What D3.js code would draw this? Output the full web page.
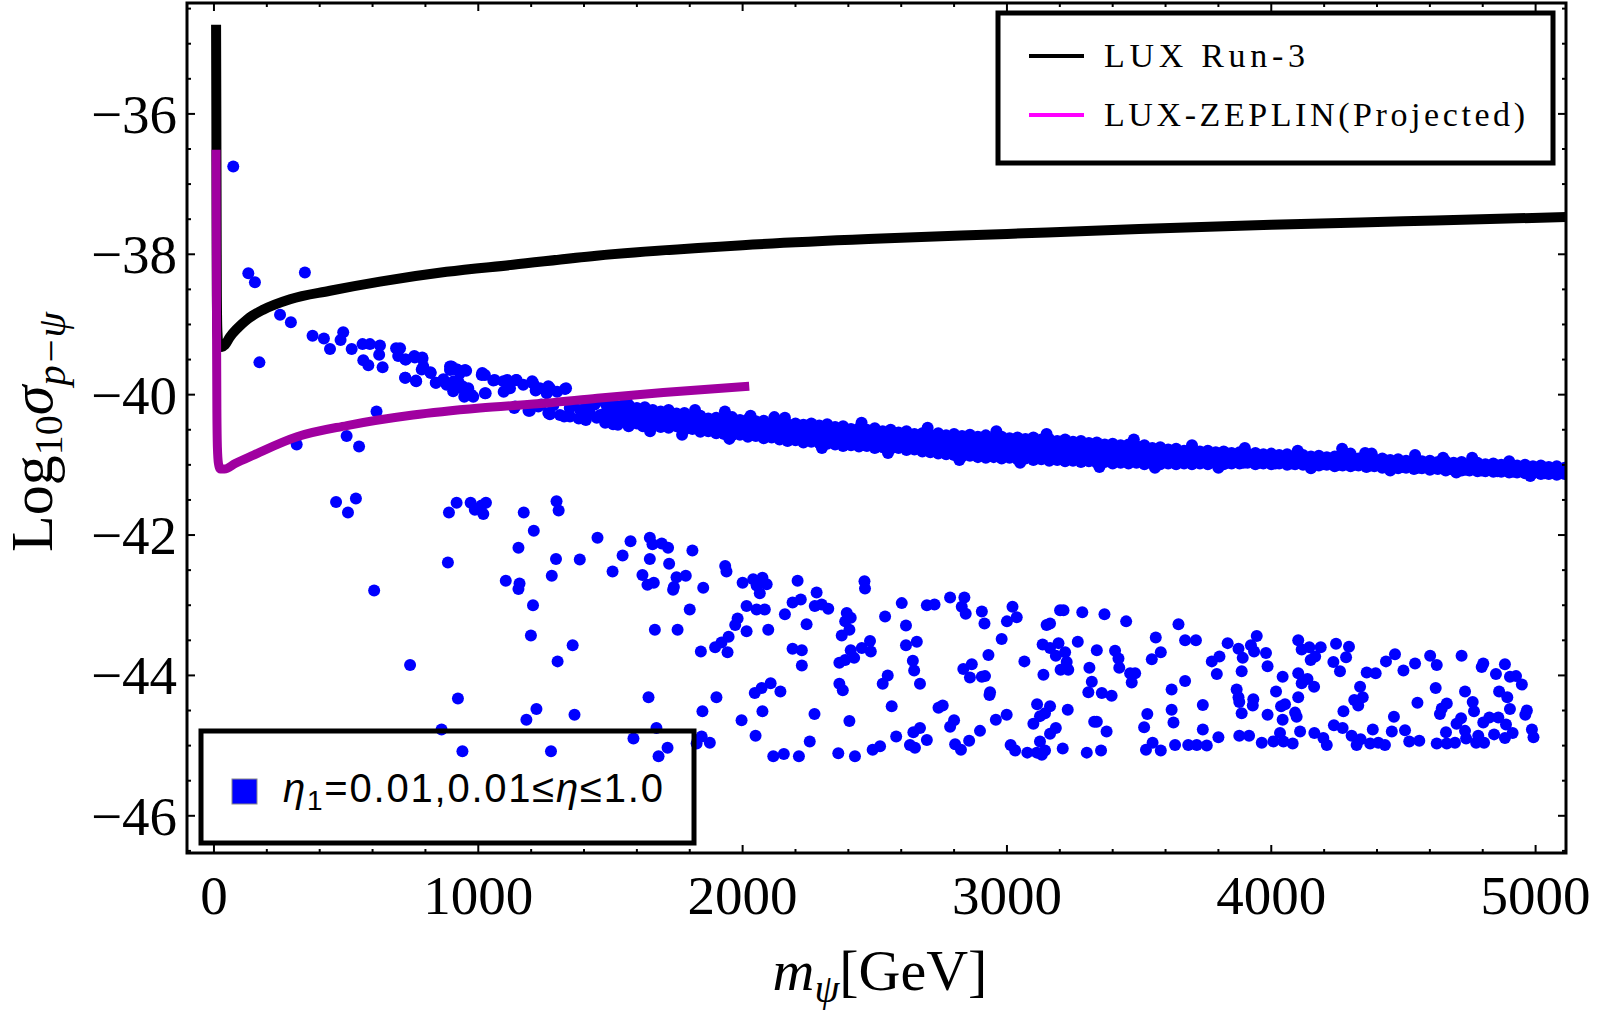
<!DOCTYPE html>
<html>
<head>
<meta charset="utf-8">
<script src="https://cdn.jsdelivr.net/npm/d3@7"></script>
<style>
  body { margin: 0; background: #ffffff; }
</style>
</head>
<body>
<div id="chart"></div>
<script>
// --- DATA ---
const xTicks = [0, 1000, 2000, 3000, 4000, 5000];
const yTicks = [-36, -38, -40, -42, -44, -46];

// exclusion curves: [mass GeV, log10 sigma]
const luxRun3 = [
  [8,-34.73],[9,-36],[10,-37.5],[11,-38.6],[13,-39.1],[18,-39.28],[30,-39.32],[42,-39.29],
  [60,-39.18],[90,-39.05],[125,-38.93],[186,-38.79],[288,-38.64],[439,-38.52],[628,-38.39],
  [880,-38.25],[1131,-38.15],[1447,-38.02],[2000,-37.87],[2500,-37.78],[3000,-37.71],
  [3500,-37.64],[4000,-37.58],[4500,-37.53],[5115,-37.47]
];
const luxZeplin = [
  [8,-36.51],[9,-38.0],[10,-39.3],[11,-40.2],[13,-40.75],[17,-40.98],[24,-41.06],[40,-41.06],
  [80,-40.98],[150,-40.86],[314,-40.60],[503,-40.44],[753,-40.29],[1006,-40.19],[1260,-40.12],
  [1450,-40.05],[1700,-39.97],[2025,-39.88]
];

// scattered points above / around the start of the band
const trailPoints = [
  [73,-36.75],[130,-38.27],[155,-38.40],[344,-38.26],[172,-39.54],[250,-38.86],[291,-38.97],
  [373,-39.16],[416,-39.20],[439,-39.35],[489,-39.11],[479,-39.22],[521,-39.35],[562,-39.28],
  [590,-39.28],[628,-39.30],[625,-39.43],[565,-39.51],[584,-39.58],[638,-39.61],[689,-39.34],
  [697,-39.45],[726,-39.50],[760,-39.47],[789,-39.49],[723,-39.76],[764,-39.80],[786,-39.64],
  [820,-39.69],[840,-39.83],[868,-39.78],[893,-39.65],[918,-39.64],[950,-39.65],[880,-39.86],
  [905,-39.95],[937,-39.91],[956,-40.00],[981,-40.03],[1013,-39.72],[1025,-39.72],[1057,-39.80],
  [1025,-39.98],[1095,-39.81],[1145,-39.79],[1120,-39.91],[1208,-39.84],[1233,-39.91],
  [1271,-39.91],[1328,-39.92],[1139,-40.17],[1195,-40.23],[1227,-40.17],[1265,-40.26],
  [1309,-40.29],[1347,-40.31],[1397,-40.33],[1448,-40.33],[1359,-40.12],[1410,-40.17],
  [615,-40.24],[313,-40.71],[502,-40.59],[549,-40.74],[899,-39.60],[931,-39.69],[962,-39.91],
  [924,-39.81],[1170,-39.86],[1259,-39.98],[1284,-40.15],[1385,-40.22],[1422,-40.26],
  [704,-39.34],[724,-39.50],[758,-39.45],[788,-39.47],[724,-39.76],[765,-39.81],[792,-39.60],
  [819,-39.68],[839,-39.83],[893,-39.60],[920,-39.64],[954,-39.66],[907,-39.81],[940,-39.88],
  [974,-40.00],[947,-40.03],[1015,-39.69],[1028,-39.98],[1062,-39.79],[1109,-39.79],
  [1143,-39.79],[1096,-39.96],[1136,-40.19],[1190,-40.23],[1204,-39.81],[1217,-39.94],
  [1265,-39.88],[1298,-39.96],[1332,-39.91],[1238,-40.14],[1271,-40.28],[1325,-40.31],
  [1380,-40.34],[1407,-40.21],[1440,-40.14],[1461,-40.29],[1488,-40.36],[1528,-40.43],
  [1569,-40.45],[1623,-40.45],[1407,-40.36],[1346,-40.19],[1515,-40.22],[1582,-40.22],
  [1650,-40.26],[1677,-40.36],[1717,-40.45],[1771,-40.57],[1933,-40.24],[2030,-40.30],
  [2160,-40.33],[4268,-40.77],[4355,-40.83],[4544,-40.86],[4380,-40.84],[4760,-40.90]
];

// dense band: [mass, [log10 sigma values in that column]]
const bandColumns = [
  [1480,[-40.12,-40.26,-40.40]],[1510,[-40.14,-40.30,-40.42]],[1540,[-40.16,-40.24,-40.38]],
  [1570,[-40.15,-40.33,-40.43]],[1600,[-40.19,-40.28,-40.41]],[1630,[-40.18,-40.36,-40.45]],
  [1660,[-40.22,-40.31,-40.44]],[1690,[-40.24,-40.35,-40.46]],[1720,[-40.22,-40.38,-40.47]],
  [1750,[-40.27,-40.34,-40.45]],[1780,[-40.26,-40.40,-40.50]],[1810,[-40.31,-40.38,-40.49]],
  [1840,[-40.30,-40.44,-40.53]],[1870,[-40.34,-40.41,-40.52]],[1900,[-40.33,-40.45,-40.55]],
  [1930,[-40.35,-40.43,-40.56]],[1960,[-40.32,-40.48,-40.58]],[1990,[-40.36,-40.46,-40.57]],
  [2020,[-40.35,-40.51,-40.60]],[2050,[-40.38,-40.47,-40.59]],[2080,[-40.37,-40.52,-40.62]],
  [2110,[-40.41,-40.50,-40.61]],[2140,[-40.39,-40.55,-40.64]],[2170,[-40.42,-40.52,-40.66]],
  [2200,[-40.41,-40.57,-40.65]],[2230,[-40.43,-40.54,-40.68]],[2260,[-40.41,-40.58,-40.67]],
  [2290,[-40.44,-40.55,-40.69]],[2320,[-40.42,-40.60,-40.70]],[2350,[-40.46,-40.57,-40.71]],
  [2380,[-40.45,-40.62,-40.73]],[2410,[-40.49,-40.59,-40.72]],[2440,[-40.48,-40.64,-40.74]],
  [2470,[-40.50,-40.61,-40.73]],[2500,[-40.48,-40.66,-40.76]],[2530,[-40.52,-40.62,-40.75]],
  [2560,[-40.50,-40.67,-40.77]],[2590,[-40.54,-40.64,-40.76]],[2620,[-40.52,-40.69,-40.79]],
  [2650,[-40.56,-40.66,-40.78]],[2680,[-40.55,-40.71,-40.81]],[2710,[-40.57,-40.68,-40.82]],
  [2740,[-40.55,-40.73,-40.84]],[2770,[-40.58,-40.70,-40.85]],[2800,[-40.56,-40.75,-40.86]],
  [2830,[-40.59,-40.71,-40.88]],[2860,[-40.57,-40.76,-40.87]],[2890,[-40.60,-40.73,-40.89]],
  [2920,[-40.58,-40.78,-40.90]],[2950,[-40.61,-40.74,-40.89]],[2980,[-40.60,-40.79,-40.91]],
  [3010,[-40.62,-40.75,-40.90]],[3040,[-40.61,-40.80,-40.92]],[3070,[-40.63,-40.76,-40.91]],
  [3100,[-40.61,-40.81,-40.93]],[3130,[-40.64,-40.77,-40.92]],[3160,[-40.63,-40.82,-40.94]],
  [3190,[-40.66,-40.78,-40.93]],[3220,[-40.64,-40.83,-40.95]],[3250,[-40.67,-40.80,-40.94]],
  [3280,[-40.66,-40.85,-40.96]],[3310,[-40.69,-40.81,-40.95]],[3340,[-40.68,-40.86,-40.97]],
  [3370,[-40.71,-40.83,-40.96]],[3400,[-40.70,-40.87,-40.98]],[3430,[-40.72,-40.84,-40.97]],
  [3460,[-40.71,-40.88,-40.98]],[3490,[-40.73,-40.85,-40.97]],[3520,[-40.72,-40.89,-40.99]],
  [3550,[-40.76,-40.86,-40.98]],[3580,[-40.75,-40.90,-40.99]],[3610,[-40.78,-40.87,-40.98]],
  [3640,[-40.77,-40.91,-40.99]],[3670,[-40.80,-40.88,-40.98]],[3700,[-40.79,-40.92,-40.99]],
  [3730,[-40.81,-40.89,-40.98]],[3760,[-40.80,-40.93,-40.99]],[3790,[-40.82,-40.90,-40.98]],
  [3820,[-40.81,-40.94,-40.99]],[3850,[-40.83,-40.91,-40.98]],[3880,[-40.82,-40.95,-40.98]],
  [3910,[-40.84,-40.92,-40.97]],[3940,[-40.83,-40.95,-40.99]],[3970,[-40.85,-40.92,-40.98]],
  [4000,[-40.84,-40.96,-40.99]],[4030,[-40.86,-40.93,-40.98]],[4060,[-40.85,-40.96,-41.00]],
  [4090,[-40.87,-40.94,-40.99]],[4120,[-40.86,-40.97,-41.00]],[4150,[-40.88,-40.95,-40.99]],
  [4180,[-40.87,-40.97,-41.01]],[4210,[-40.89,-40.96,-41.00]],[4240,[-40.88,-40.98,-41.02]],
  [4270,[-40.90,-40.96,-41.01]],[4300,[-40.89,-40.98,-41.02]],[4330,[-40.91,-40.97,-41.01]],
  [4360,[-40.90,-40.99,-41.03]],[4390,[-40.92,-40.98,-41.02]],[4420,[-40.91,-41.00,-41.04]],
  [4450,[-40.93,-40.99,-41.03]],[4480,[-40.92,-41.01,-41.05]],[4510,[-40.94,-41.00,-41.04]],
  [4540,[-40.93,-41.02,-41.06]],[4570,[-40.95,-41.01,-41.05]],[4600,[-40.94,-41.03,-41.07]],
  [4630,[-40.96,-41.02,-41.06]],[4660,[-40.95,-41.04,-41.08]],[4690,[-40.97,-41.03,-41.07]],
  [4720,[-40.96,-41.05,-41.08]],[4750,[-40.98,-41.04,-41.08]],[4780,[-40.97,-41.06,-41.09]],
  [4810,[-40.99,-41.05,-41.09]],[4840,[-40.98,-41.07,-41.10]],[4870,[-41.00,-41.06,-41.10]],
  [4900,[-40.99,-41.08,-41.11]],[4930,[-41.01,-41.07,-41.11]],[4960,[-41.00,-41.09,-41.12]],
  [4990,[-41.02,-41.08,-41.12]],[5020,[-41.01,-41.10,-41.13]],[5050,[-41.03,-41.09,-41.13]],
  [5080,[-41.02,-41.11,-41.14]],[5110,[-41.04,-41.10,-41.13]]
];

// band, in-between columns
const bandFill = [
  [1495,[-40.18,-40.35]],[1525,[-40.21,-40.37]],[1555,[-40.19,-40.32]],[1585,[-40.24,-40.39]],
  [1615,[-40.22,-40.35]],[1645,[-40.27,-40.41]],[1675,[-40.26,-40.38]],[1705,[-40.29,-40.41]],
  [1735,[-40.30,-40.43]],[1765,[-40.30,-40.40]],[1795,[-40.33,-40.45]],[1825,[-40.34,-40.44]],
  [1855,[-40.37,-40.49]],[1885,[-40.37,-40.47]],[1915,[-40.39,-40.50]],[1945,[-40.39,-40.50]],
  [1975,[-40.40,-40.53]],[2005,[-40.41,-40.52]],[2035,[-40.43,-40.56]],[2065,[-40.42,-40.53]],
  [2095,[-40.45,-40.57]],[2125,[-40.45,-40.56]],[2155,[-40.47,-40.60]],[2185,[-40.47,-40.59]],
  [2215,[-40.49,-40.61]],[2245,[-40.48,-40.61]],[2275,[-40.50,-40.63]],[2305,[-40.50,-40.62]],
  [2335,[-40.51,-40.65]],[2365,[-40.52,-40.64]],[2395,[-40.54,-40.68]],[2425,[-40.54,-40.66]],
  [2455,[-40.56,-40.69]],[2485,[-40.56,-40.67]],[2515,[-40.57,-40.71]],[2545,[-40.57,-40.69]],
  [2575,[-40.59,-40.72]],[2605,[-40.59,-40.70]],[2635,[-40.61,-40.74]],[2665,[-40.61,-40.72]],
  [2695,[-40.63,-40.76]],[2725,[-40.62,-40.75]],[2755,[-40.64,-40.79]],[2785,[-40.64,-40.78]],
  [2815,[-40.66,-40.81]],[2845,[-40.65,-40.80]],[2875,[-40.67,-40.82]],[2905,[-40.66,-40.81]],
  [2935,[-40.68,-40.84]],[2965,[-40.68,-40.82]],[2995,[-40.70,-40.85]],[3025,[-40.69,-40.83]],
  [3055,[-40.71,-40.86]],[3085,[-40.70,-40.84]],[3115,[-40.71,-40.87]],[3145,[-40.71,-40.85]],
  [3175,[-40.73,-40.88]],[3205,[-40.72,-40.86]],[3235,[-40.74,-40.89]],[3265,[-40.74,-40.87]],
  [3295,[-40.76,-40.90]],[3325,[-40.75,-40.88]],[3355,[-40.77,-40.92]],[3385,[-40.77,-40.90]],
  [3415,[-40.79,-40.93]],[3445,[-40.78,-40.91]],[3475,[-40.80,-40.93]],[3505,[-40.79,-40.91]],
  [3535,[-40.81,-40.94]],[3565,[-40.81,-40.92]],[3595,[-40.83,-40.95]],[3625,[-40.83,-40.93]],
  [3655,[-40.84,-40.95]],[3685,[-40.84,-40.93]],[3715,[-40.86,-40.96]],[3745,[-40.85,-40.94]],
  [3775,[-40.87,-40.96]],[3805,[-40.86,-40.94]],[3835,[-40.88,-40.97]],[3865,[-40.87,-40.95]],
  [3895,[-40.89,-40.97]],[3925,[-40.88,-40.95]],[3955,[-40.89,-40.97]],[3985,[-40.89,-40.95]],
  [4015,[-40.90,-40.98]],[4045,[-40.90,-40.96]],[4075,[-40.91,-40.98]],[4105,[-40.91,-40.97]],
  [4135,[-40.92,-40.99]],[4165,[-40.92,-40.97]],[4195,[-40.92,-40.99]],[4225,[-40.93,-40.98]],
  [4255,[-40.93,-41.00]],[4285,[-40.93,-40.99]],[4315,[-40.94,-41.00]],[4345,[-40.94,-40.99]],
  [4375,[-40.95,-41.01]],[4405,[-40.95,-41.00]],[4435,[-40.96,-41.02]],[4465,[-40.96,-41.01]],
  [4495,[-40.97,-41.03]],[4525,[-40.97,-41.02]],[4555,[-40.98,-41.04]],[4585,[-40.98,-41.03]],
  [4615,[-40.99,-41.05]],[4645,[-40.99,-41.04]],[4675,[-41.00,-41.06]],[4705,[-41.00,-41.05]],
  [4735,[-41.01,-41.07]],[4765,[-41.01,-41.06]],[4795,[-41.02,-41.08]],[4825,[-41.02,-41.07]],
  [4855,[-41.03,-41.09]],[4885,[-41.03,-41.08]],[4915,[-41.04,-41.10]],[4945,[-41.04,-41.09]],
  [4975,[-41.05,-41.11]],[5005,[-41.05,-41.10]],[5035,[-41.06,-41.12]],[5065,[-41.06,-41.11]],
  [5095,[-41.07,-41.12]]
];

// points sticking out of the band edges
const bandEdge = [
  [1560,-40.08],[1820,-40.22],[2120,-40.32],[2450,-40.40],[2700,-40.47],[2960,-40.52],
  [3150,-40.56],[3480,-40.64],[3700,-40.72],[3900,-40.76],[4100,-40.80],[4300,-40.84],
  [4650,-40.90],[4900,-40.95],[1650,-40.52],[1950,-40.63],[2300,-40.76],[2550,-40.83],
  [2820,-40.93],[3050,-40.97],[3350,-41.03],[3560,-41.04],[3800,-41.04],[4150,-41.05],
  [4450,-41.08],[4700,-41.11],[4980,-41.16]
];

// lower scattered region
const lowerPoints = [
  [462,-41.53],[507,-41.68],[537,-41.48],[606,-42.79],[742,-43.85],
  [918,-41.54],[971,-41.54],[987,-41.64],[1012,-41.58],[1029,-41.54],[1019,-41.70],[889,-41.68],
  [1172,-41.68],[1296,-41.52],[1304,-41.65],[1210,-41.94],[1152,-42.18],[885,-42.39],[1294,-42.34],
  [1278,-42.58],[1104,-42.65],[1156,-42.69],[1152,-42.77],[1207,-43.00],[1199,-43.43],[1357,-43.57],
  [1300,-43.80],[1384,-42.35],[1451,-42.04],[1576,-42.09],[1546,-42.29],[1508,-42.52],[1621,-42.57],
  [1640,-42.71],[1664,-42.68],[1649,-42.04],[1659,-42.13],[1694,-42.12],[1718,-42.18],[1649,-42.34],
  [1722,-42.41],[1750,-42.60],[1785,-42.58],[1740,-42.74],[1737,-42.78],[1810,-42.22],[1851,-42.75],
  [1800,-43.06],[1668,-43.35],[1754,-43.35],[1934,-42.44],[1939,-42.52],[2000,-42.68],[2040,-42.63],
  [2075,-42.61],[2053,-42.72],[2091,-42.70],[2065,-42.83],[2208,-42.65],[2015,-43.01],[2053,-43.06],
  [2084,-43.06],[2160,-43.13],[2189,-42.96],[2220,-42.92],[2280,-42.82],[2273,-43.01],[2299,-42.99],
  [2324,-43.05],[1981,-43.19],[1972,-43.28],[2015,-43.37],[2097,-43.35],[2242,-43.27],[1947,-43.45],
  [1920,-43.53],[1896,-43.60],[1943,-43.67],[1842,-43.66],[2189,-43.62],[2224,-43.64],[2224,-43.86],
  [923,-44.33],[1220,-44.48],[1182,-44.63],[1364,-44.56],[1644,-44.31],[1901,-44.31],[1848,-44.51],
  [1996,-44.64],[2075,-44.51],[2046,-44.25],[2072,-44.18],[2106,-44.11],[2143,-44.23],[2272,-44.55],
  [2049,-44.86],[2254,-44.94],[861,-44.77],[940,-45.08],[1275,-45.08],[1587,-44.90],[1674,-44.75],
  [1716,-45.03],[1682,-45.15],[1845,-44.87],[1876,-44.96],[1826,-44.97],[2116,-45.15],[2156,-45.12],
  [2213,-45.15],
  [2461,-42.66],[2463,-42.76],[2602,-42.97],[2539,-43.16],[2618,-43.29],[2697,-43.00],[2726,-42.99],
  [2785,-42.89],[2839,-42.89],[2829,-43.02],[2844,-43.12],[2905,-43.09],[2915,-43.26],[3021,-43.02],
  [3000,-43.23],[3037,-43.17],[2980,-43.48],[2930,-43.71],[3066,-43.80],[3135,-43.56],[3163,-43.61],
  [3195,-43.54],[3220,-43.67],[3185,-43.72],[3226,-43.81],[3203,-43.92],[3232,-43.92],[3138,-43.99],
  [3201,-43.07],[3214,-43.07],[3285,-43.10],[3369,-43.13],[3451,-43.23],[3150,-43.28],[3163,-43.26],
  [3268,-43.52],[3340,-43.64],[3409,-43.65],[3422,-43.76],[3425,-43.89],[3466,-43.97],[3485,-43.97],
  [3472,-44.10],[3312,-43.89],[3321,-44.09],[3308,-44.24],[3359,-44.25],[3396,-44.29],[3548,-43.77],
  [3563,-43.46],[3582,-43.67],[3649,-43.27],[2394,-43.11],[2409,-43.18],[2388,-43.23],[2404,-43.35],
  [2375,-43.43],[2482,-43.51],[2451,-43.61],[2409,-43.64],[2485,-43.66],[2422,-43.75],[2659,-43.52],
  [2618,-43.57],[2644,-43.79],[2649,-43.93],[2671,-44.12],[2549,-44.00],[2530,-44.12],[2564,-44.44],
  [2867,-43.84],[2835,-43.91],[2860,-44.03],[2905,-44.02],[2917,-44.01],[2936,-44.24],[2934,-44.28],
  [2366,-43.82],[2388,-43.78],[2366,-44.12],[2379,-44.21],[2404,-44.65],[2757,-44.43],[2741,-44.46],
  [2800,-44.64],[2785,-44.73],[2671,-44.75],[2646,-44.81],[2697,-44.92],[2581,-44.87],[2520,-45.01],
  [2492,-45.06],[2425,-45.15],[2362,-45.11],[2633,-44.99],[2652,-45.03],[2804,-44.98],[2826,-45.06],
  [2857,-44.93],[2898,-44.79],[2958,-44.63],[2999,-44.56],[3014,-44.99],[3031,-45.07],[3077,-45.10],
  [3113,-45.10],[3125,-44.94],[3144,-45.07],[3132,-45.13],[3100,-44.69],[3125,-44.58],[3163,-44.44],
  [3144,-44.54],[3114,-44.41],[3230,-44.49],[3185,-44.75],[3163,-44.83],[3211,-45.04],[3302,-45.10],
  [3356,-45.07],[3330,-44.66],[3340,-44.66],[3377,-44.80],[3519,-44.74],[3531,-44.55],[3623,-44.20],
  [3623,-44.49],[3630,-44.67],[3636,-44.99],[3526,-45.06],[3551,-44.96],[3582,-45.07],
  [3674,-43.50],[3715,-43.50],[3674,-44.08],[3775,-43.80],[3804,-43.73],[3794,-43.98],[3835,-43.54],
  [3876,-43.62],[3892,-43.75],[3923,-43.57],[3935,-43.66],[3945,-43.44],[3980,-43.68],[3986,-43.87],
  [3888,-43.94],[3869,-44.20],[3876,-44.31],[3879,-44.38],[3932,-44.34],[3930,-44.43],[3888,-44.54],
  [3741,-44.42],[3741,-44.77],[3800,-44.88],[3879,-44.86],[3916,-44.86],[3964,-44.96],[3986,-44.56],
  [4018,-44.23],[4043,-44.02],[4037,-44.44],[4052,-44.41],[4043,-44.63],[4090,-44.53],[4096,-44.59],
  [4102,-44.31],[4102,-43.97],[4115,-44.11],[4137,-44.05],[4162,-44.16],[4109,-44.80],[4163,-44.82],
  [4197,-44.89],[4210,-44.99],[4102,-43.50],[4115,-43.63],[4144,-43.60],[4187,-43.60],[4149,-43.78],
  [4166,-43.73],[4245,-43.55],[4294,-43.59],[4283,-43.74],[4235,-43.81],[4260,-43.94],[4336,-44.16],
  [4346,-44.31],[4314,-44.35],[4329,-44.43],[4273,-44.51],[4237,-44.71],[4270,-44.75],[4304,-44.86],
  [4338,-44.91],[4323,-44.99],[4361,-43.96],[4395,-43.97],[4434,-43.80],[4468,-43.70],[4500,-43.93],
  [4544,-43.83],[4601,-43.72],[4626,-43.85],[4622,-44.18],[4553,-44.39],[4664,-44.40],[4645,-44.47],
  [4638,-44.55],[4464,-44.59],[4384,-44.77],[4456,-44.80],[4506,-44.78],[4522,-44.94],[4560,-44.93],
  [4626,-44.97],[4664,-44.97],[4695,-44.96],[4661,-44.81],[4718,-44.61],[4701,-44.69],[4733,-44.79],
  [4737,-44.90],[4720,-43.72],[4733,-44.23],[4762,-44.38],[4767,-44.51],[4802,-43.83],[4796,-43.88],
  [4850,-43.98],[4884,-43.84],[4903,-44.02],[4926,-44.01],[4862,-44.23],[4893,-44.31],[4903,-44.48],
  [4888,-44.70],[4843,-44.84],[4913,-44.82],[4884,-44.89],[4802,-44.67],[4825,-44.60],[4859,-44.60],
  [4783,-44.86],[4775,-44.96],[4805,-44.96],[3686,-44.99],[3718,-44.99],[3756,-45.00],[4033,-44.82],
  [4008,-44.94],[4046,-44.94],[4081,-44.97],[4374,-44.97],[4405,-44.96],[4430,-44.99],
  [4948,-44.13],[4967,-44.50],[4961,-44.56],[4986,-44.77],[4992,-44.88]
];

const legendCurves = [
  { label: "LUX Run-3", color: "#000000" },
  { label: "LUX-ZEPLIN(Projected)", color: "#ff00ff" }
];

// --- SVG setup ---
const width = 1600, height = 1010;
const frame = { left: 187, right: 1566, top: 3, bottom: 853 };

const svg = d3.select("#chart")
  .append("svg")
  .attr("width", width)
  .attr("height", height)
  .style("background", "#ffffff");

// --- SCALES ---
const x = d3.scaleLinear().domain([-102, 5115]).range([frame.left, frame.right]);
const y = d3.scaleLinear().domain([-46.53, -34.42]).range([frame.bottom, frame.top]);

svg.append("clipPath").attr("id", "plotClip")
  .append("rect")
  .attr("x", frame.left).attr("y", frame.top)
  .attr("width", frame.right - frame.left)
  .attr("height", frame.bottom - frame.top);

const plot = svg.append("g").attr("clip-path", "url(#plotClip)");

// --- POINTS ---
const columnsToPoints = cols => cols.flatMap(c => c[1].map(v => [c[0], v]));
const allPoints = trailPoints
  .concat(lowerPoints)
  .concat(columnsToPoints(bandColumns))
  .concat(columnsToPoints(bandFill))
  .concat(bandEdge);

plot.selectAll("circle.pt")
  .data(allPoints)
  .enter()
  .append("circle")
  .attr("class", "pt")
  .attr("cx", d => x(d[0]))
  .attr("cy", d => y(d[1]))
  .attr("r", 6)
  .attr("fill", "#0000ff");

// --- CURVES ---
const line = d3.line()
  .x(d => x(d[0]))
  .y(d => y(d[1]))
  .curve(d3.curveMonotoneX);

plot.append("path")
  .datum(luxRun3)
  .attr("d", line)
  .attr("fill", "none")
  .attr("stroke", "#000000")
  .attr("stroke-width", 10)
  .attr("stroke-linejoin", "round");

plot.append("path")
  .datum(luxZeplin)
  .attr("d", line)
  .attr("fill", "none")
  .attr("stroke", "#a000a0")
  .attr("stroke-width", 9)
  .attr("stroke-linejoin", "round");

// --- FRAME + TICKS ---
const xMinor = d3.range(0, 5101, 200).filter(v => v % 1000 !== 0);
const yMinor = d3.range(-46.5, -34.4, 0.5).filter(v => Math.abs(v % 2) > 0.01);

const axisG = svg.append("g").attr("stroke", "#000");

function xTickLines(vals, len) {
  vals.forEach(v => {
    axisG.append("line").attr("x1", x(v)).attr("x2", x(v))
      .attr("y1", frame.bottom).attr("y2", frame.bottom - len).attr("stroke-width", 2);
    axisG.append("line").attr("x1", x(v)).attr("x2", x(v))
      .attr("y1", frame.top).attr("y2", frame.top + len).attr("stroke-width", 2);
  });
}
function yTickLines(vals, len) {
  vals.forEach(v => {
    axisG.append("line").attr("y1", y(v)).attr("y2", y(v))
      .attr("x1", frame.left).attr("x2", frame.left + len).attr("stroke-width", 2);
    axisG.append("line").attr("y1", y(v)).attr("y2", y(v))
      .attr("x1", frame.right).attr("x2", frame.right - len).attr("stroke-width", 2);
  });
}
xTickLines(xTicks, 8);
xTickLines(xMinor, 4);
yTickLines(yTicks, 8);
yTickLines(yMinor, 4);

svg.append("rect")
  .attr("x", frame.left).attr("y", frame.top)
  .attr("width", frame.right - frame.left)
  .attr("height", frame.bottom - frame.top)
  .attr("fill", "none")
  .attr("stroke", "#000")
  .attr("stroke-width", 3);

// tick labels
svg.selectAll("text.xt")
  .data(xTicks)
  .enter()
  .append("text")
  .attr("class", "xt")
  .attr("x", d => x(d))
  .attr("y", 914)
  .attr("text-anchor", "middle")
  .style("font-family", "'Liberation Serif', serif")
  .style("font-size", "55px")
  .text(d => d);

svg.selectAll("text.yt")
  .data(yTicks)
  .enter()
  .append("text")
  .attr("class", "yt")
  .attr("x", 177)
  .attr("y", d => y(d) + 19)
  .attr("text-anchor", "end")
  .style("font-family", "'Liberation Serif', serif")
  .style("font-size", "55px")
  .text(d => "\u2212" + Math.abs(d));

// --- AXIS LABELS ---
const xl = svg.append("text")
  .attr("x", 880)
  .attr("y", 990)
  .attr("text-anchor", "middle")
  .style("font-family", "'Liberation Serif', serif")
  .style("font-size", "58px");
xl.append("tspan").style("font-style", "italic").text("m");
xl.append("tspan").style("font-style", "italic").style("font-size", "40px").attr("dy", 12).text("\u03c8");
xl.append("tspan").attr("dy", -12).text("[GeV]");

const yl = svg.append("text")
  .attr("transform", "translate(52,432) rotate(-90)")
  .attr("text-anchor", "middle")
  .style("font-family", "'Liberation Serif', serif")
  .style("font-size", "60px");
yl.append("tspan").text("Log");
yl.append("tspan").style("font-size", "40px").attr("dy", 10).text("10");
yl.append("tspan").style("font-style", "italic").attr("dy", -10).text("\u03c3");
yl.append("tspan").style("font-style", "italic").style("font-size", "41px").attr("dy", 13).text("p\u2212\u03c8");

// --- LEGEND (curves) ---
const leg1 = svg.append("g");
leg1.append("rect")
  .attr("x", 998).attr("y", 13)
  .attr("width", 555).attr("height", 150)
  .attr("fill", "#ffffff")
  .attr("stroke", "#000")
  .attr("stroke-width", 5);

const legWidths = [201, 421];
legendCurves.forEach((c, i) => {
  const yy = 56 + i * 59;
  leg1.append("line")
    .attr("x1", 1029).attr("x2", 1084)
    .attr("y1", yy).attr("y2", yy)
    .attr("stroke", c.color)
    .attr("stroke-width", 4);
  leg1.append("text")
    .attr("x", 1104)
    .attr("y", yy + 11)
    .attr("textLength", legWidths[i])
    .attr("lengthAdjust", "spacing")
    .style("font-family", "'Liberation Serif', serif")
    .style("font-size", "34px")
    .text(c.label);
});

// --- LEGEND (points) ---
const leg2 = svg.append("g");
leg2.append("rect")
  .attr("x", 201).attr("y", 731)
  .attr("width", 493).attr("height", 112)
  .attr("fill", "none")
  .attr("stroke", "#000")
  .attr("stroke-width", 5);
leg2.append("rect")
  .attr("x", 232).attr("y", 779)
  .attr("width", 25).attr("height", 25)
  .attr("fill", "#0000ff")
  .attr("stroke", "#888")
  .attr("stroke-width", 1);
const lt = leg2.append("text")
  .attr("x", 283)
  .attr("y", 802)
  .attr("textLength", 380)
  .attr("lengthAdjust", "spacing")
  .style("font-family", "'Liberation Sans', sans-serif")
  .style("font-size", "40px");
lt.append("tspan").style("font-style", "italic").text("\u03b7");
lt.append("tspan").style("font-size", "28px").attr("dy", 8).text("1");
lt.append("tspan").attr("dy", -8).text("=0.01,0.01\u2264");
lt.append("tspan").style("font-style", "italic").text("\u03b7");
lt.append("tspan").text("\u22641.0");
</script>
</body>
</html>
